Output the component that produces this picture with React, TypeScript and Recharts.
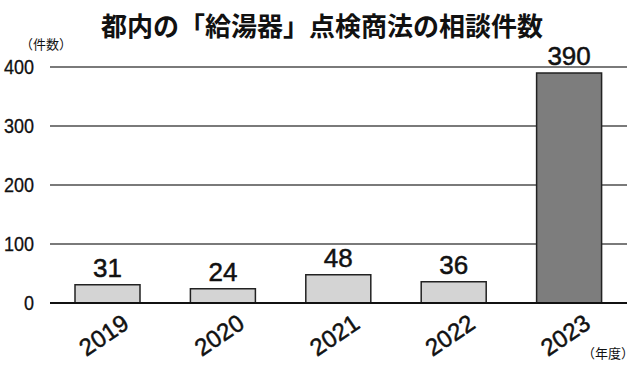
import React from 'react';
import { BarChart, Bar, XAxis, YAxis, CartesianGrid, Cell, LabelList } from 'recharts';

const years = ['2019', '2020', '2021', '2022', '2023'];
const counts = [31, 24, 48, 36, 390];
const yTicks = [0, 100, 200, 300, 400];

const TITLE = '都内の「給湯器」点検商法の相談件数';
const NUM_FONT = '"Liberation Sans", Arial, sans-serif';
const JP_FONT = '"Noto Sans CJK JP", "Noto Sans", sans-serif';

const data = years.map((year, i) => ({ year, count: counts[i] }));

const YTick = (props: any) => {
    const { x, y, payload } = props;
    return (
        <text
            x={x - 8}
            y={y}
            textAnchor="end"
            dominantBaseline="central"
            fontSize={20}
            fill="#111"
            stroke="#111"
            strokeWidth={0.3}
            fontFamily={NUM_FONT}
            transform={`scale(0.9, 1) translate(${(x - 8) / 0.9 - (x - 8)}, 0)`}
        >
            {payload.value}
        </text>
    );
};

const XTick = (props: any) => {
    const { x, payload } = props;
    const cx = x - 4;
    const cy = 335;
    return (
        <text
            x={cx}
            y={cy}
            textAnchor="middle"
            dominantBaseline="central"
            fontSize={24}
            fill="#111"
            stroke="#111"
            strokeWidth={0.5}
            fontFamily={NUM_FONT}
            transform={`rotate(-34, ${cx}, ${cy})`}
        >
            {payload.value}
        </text>
    );
};

const App: React.FC = () => {
    return (
        <div style={{ position: 'absolute', left: 0, top: 0, width: 640, height: 375, background: '#fff' }}>
            <BarChart width={640} height={375} data={data} margin={{ top: 67, right: 13, left: 0, bottom: 2 }}>
                <CartesianGrid vertical={false} stroke="#7a7a7a" strokeWidth={2} />
                <XAxis
                    dataKey="year"
                    height={70}
                    axisLine={{ stroke: '#111', strokeWidth: 2 }}
                    tickLine={false}
                    tick={<XTick />}
                    interval={0}
                />
                <YAxis
                    width={50}
                    domain={[0, 400]}
                    ticks={yTicks}
                    axisLine={false}
                    tickLine={false}
                    tick={<YTick />}
                    interval={0}
                />
                <Bar dataKey="count" barSize={65} stroke="#222" strokeWidth={1.5} isAnimationActive={false}>
                    {data.map((d, i) => (
                        <Cell key={`cell-${i}`} fill={i === data.length - 1 ? '#7d7d7d' : '#d4d4d4'} />
                    ))}
                    <LabelList
                        dataKey="count"
                        position="top"
                        offset={8}
                        fontSize={26}
                        fill="#111"
                        stroke="#111"
                        strokeWidth={0.5}
                        fontFamily={NUM_FONT}
                    />
                </Bar>
            </BarChart>
            <svg width={640} height={375} style={{ position: 'absolute', left: 0, top: 0, pointerEvents: 'none' }}>
                <text x={322} y={36} textAnchor="middle" fontSize={26} fontWeight="bold" fill="#111" fontFamily={JP_FONT}>
                    {TITLE}
                </text>
                <text x={46} y={49} textAnchor="middle" fontSize={13} fill="#111" fontFamily={JP_FONT}>
                    （件数）
                </text>
                <text x={608} y={358} textAnchor="middle" fontSize={13} fill="#111" fontFamily={JP_FONT}>
                    （年度）
                </text>
            </svg>
        </div>
    );
};

export default App;
